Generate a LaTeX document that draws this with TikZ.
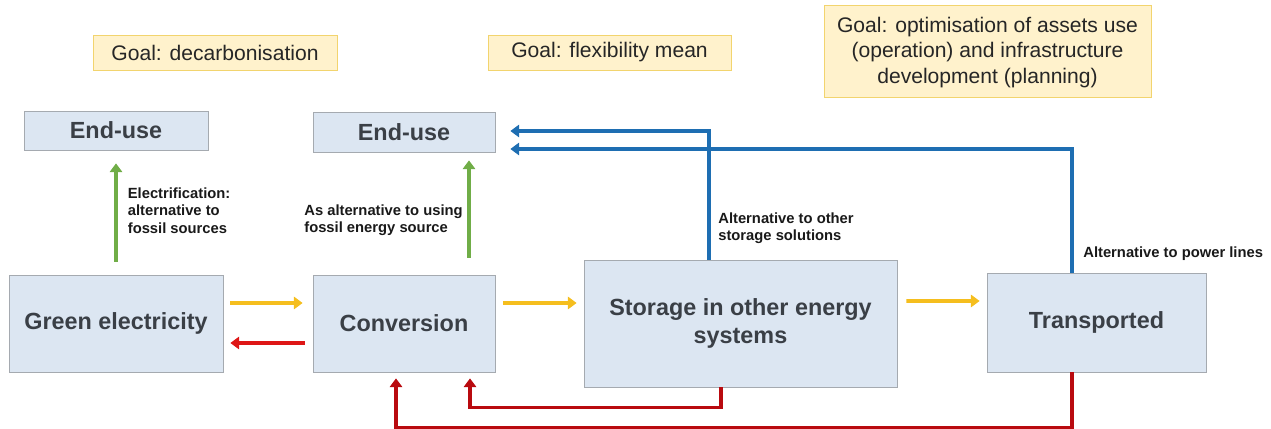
\documentclass[tikz,border=0pt]{standalone}
\usepackage{fontspec}
\setmainfont{Liberation Sans}
\usetikzlibrary{%
        arrows.meta
    }
\definecolor{boxblue}{RGB}{220, 230, 242}
\definecolor{boxline}{RGB}{165, 170, 176}
\definecolor{goalfill}{RGB}{255, 242, 204}
\definecolor{goalline}{RGB}{242, 212, 110}
\definecolor{darktext}{RGB}{58, 63, 70}
\definecolor{leafgreen}{RGB}{112, 173, 71}
\definecolor{amber}{RGB}{245, 190, 30}
\definecolor{brightred}{RGB}{222, 22, 22}
\definecolor{darkred}{RGB}{185, 10, 15}
\definecolor{steelblue}{RGB}{30, 110, 178}
\tikzset{%
    block/.style={%
        draw=boxline, fill=boxblue, text=darktext, inner sep=0pt,
        align=center, font=\bfseries\fontsize{13.3}{16}\selectfont
    },
    goal/.style={%
        draw=goalline, fill=goalfill, text=black!85, inner sep=0pt,
        align=center, font=\fontsize{12}{14.7}\selectfont
    },
    flow/.style={line width=2pt, -{Triangle[length=5pt, width=7pt]}},
    note/.style={anchor=north west, align=left, inner sep=0pt,
        text=black!90, font=\bfseries\fontsize{8.4}{10}\selectfont}
}

\begin{document}
\begin{tikzpicture}

    \useasboundingbox (0, 0) rectangle (25.42, -8.58);

    % Goals
    \node[goal, minimum width=4.88cm, minimum height=0.7cm] (goaldecarb)
        at (4.30, -1.05) {Goal: decarbonisation};
    \node[goal, minimum width=4.86cm, minimum height=0.7cm] (goalflex)
        at (12.19, -1.05) {Goal: flexibility mean};
    \node[goal, minimum width=6.54cm, minimum height=1.84cm] (goalassets)
        at (19.75, -1.02) {\strut Goal: optimisation of assets use\\
            (operation) and infrastructure\\ development (planning)};

    % Boxes
    \node[block, minimum width=3.68cm, minimum height=0.78cm] (enduse1)
        at (2.32, -2.61) {End-use};
    \node[block, minimum width=3.64cm, minimum height=0.8cm] (enduse2)
        at (8.08, -2.64) {End-use};
    \node[block, minimum width=4.28cm, minimum height=1.94cm] (green)
        at (2.32, -6.47) {Green electricity};
    \node[block, minimum width=3.64cm, minimum height=1.94cm] (conversion)
        at (8.08, -6.47) {Conversion};
    \node[block, minimum width=6.26cm, minimum height=2.54cm] (storage)
        at (14.81, -6.47) {Storage in other energy\\ systems};
    \node[block, minimum width=4.38cm, minimum height=1.98cm] (transported)
        at (21.93, -6.45) {Transported};

    % Labels
    \node[note] (electrification) at (2.55, -3.74)
        {Electrification:\\ alternative to\\ fossil sources};
    \node[note] (fossilalt) at (6.08, -4.08)
        {As alternative to using\\ fossil energy source};
    \node[note] (storagealt) at (14.36, -4.24)
        {Alternative to other\\ storage solutions};
    \node[note] (powerlines) at (21.66, -4.92) {Alternative to power lines};

    % Towards end-use
    \draw[flow, leafgreen] ([yshift=0.26cm] green.north)
        -- ([yshift=-0.26cm] enduse1.south);
    \draw[flow, leafgreen] ([shift={(1.3, 0.34)}] conversion.north)
        -- ([shift={(1.3, -0.16)}] enduse2.south);

    % Forward and back
    \draw[flow, amber] ([shift={(0.14, 0.41)}] green.east)
        -- ([shift={(-0.2, 0.41)}] conversion.west);
    \draw[flow, brightred] ([shift={(-0.16, -0.39)}] conversion.west)
        -- ([shift={(0.14, -0.39)}] green.east);
    \draw[flow, amber] ([shift={(0.16, 0.41)}] conversion.east)
        -- ([shift={(-0.14, 0.41)}] storage.west);
    \draw[flow, amber] ([shift={(0.18, 0.45)}] storage.east)
        -- ([shift={(-0.14, 0.43)}] transported.west);

    % Blue feedback
    \draw[flow, steelblue] ([xshift=-0.63cm] storage.north)
        |- ([shift={(0.3, 0.02)}] enduse2.east);
    \draw[flow, steelblue] ([xshift=-0.49cm] transported.north)
        |- ([shift={(0.3, -0.34)}] enduse2.east);

    % Red feedback
    \draw[flow, darkred] ([xshift=-0.39cm] storage.south) -- ++(0, -0.4)
        -| ([shift={(1.32, -0.12)}] conversion.south);
    \draw[flow, darkred] ([xshift=-0.49cm] transported.south) -- ++(0, -1.1)
        -| ([shift={(-0.16, -0.12)}] conversion.south);

\end{tikzpicture}
\end{document}
